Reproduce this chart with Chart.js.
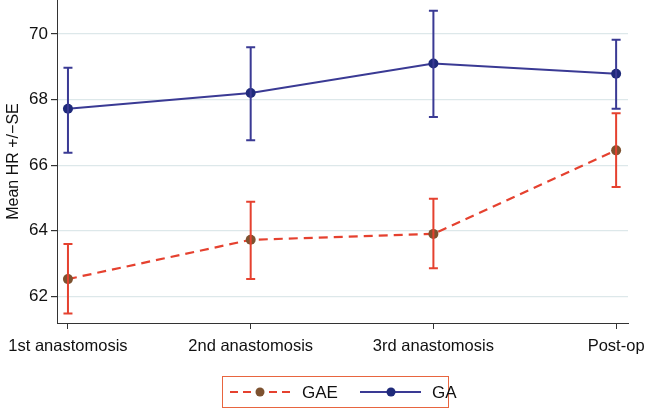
<!DOCTYPE html>
<html>
<head>
  <title>Mean HR</title>
  <script src="https://cdn.jsdelivr.net/npm/chart.js"></script>
  <style>
    body { margin: 0; background: #fff; }
    #wrap { width: 646px; height: 409px; position: relative; }
  </style>
</head>
<body>
  <div id="wrap"><canvas id="chart"></canvas></div>
  <script>
    const categories = ['1st anastomosis', '2nd anastomosis', '3rd anastomosis', 'Post-op'];
    const seriesNames = ['GAE', 'GA'];
    const gaeMean = [62.52, 63.72, 63.90, 66.45];
    const gaeLow = [61.47, 62.52, 62.85, 65.33];
    const gaeHigh = [63.59, 64.88, 64.97, 67.58];
    const gaMean = [67.72, 68.20, 69.10, 68.79];
    const gaLow = [66.38, 66.76, 67.47, 67.72];
    const gaHigh = [68.97, 69.60, 70.71, 69.83];
    const yTicks = [62, 64, 66, 68, 70];

    const RED = '#e5412f';
    const BLUE = '#3a3a94';
    const FONT = 'Liberation Sans, Arial, sans-serif';

    const errorBars = {
      id: 'errorBars',
      afterDatasetsDraw(chart) {
        const ctx = chart.ctx;
        const x = chart.scales.x, y = chart.scales.y;
        const sets = [
          { low: gaeLow, high: gaeHigh, color: RED },
          { low: gaLow, high: gaHigh, color: BLUE }
        ];
        ctx.save();
        sets.forEach(s => {
          ctx.strokeStyle = s.color;
          ctx.lineWidth = 2;
          s.low.forEach((lo, i) => {
            const px = x.getPixelForValue(i);
            const p1 = y.getPixelForValue(lo);
            const p2 = y.getPixelForValue(s.high[i]);
            ctx.beginPath();
            ctx.moveTo(px, p1); ctx.lineTo(px, p2);
            ctx.moveTo(px - 4.5, p1); ctx.lineTo(px + 4.5, p1);
            ctx.moveTo(px - 4.5, p2); ctx.lineTo(px + 4.5, p2);
            ctx.stroke();
          });
        });
        ctx.restore();
      },
      afterDraw(chart) {
        // boxed legend under the axis
        const ctx = chart.ctx;
        ctx.save();
        ctx.strokeStyle = '#e8653f';
        ctx.lineWidth = 1;
        ctx.strokeRect(222.5, 376.5, 226, 31);
        const cy = 392;
        // GAE
        ctx.strokeStyle = RED;
        ctx.lineWidth = 2;
        ctx.setLineDash([8, 5]);
        ctx.beginPath(); ctx.moveTo(230, cy); ctx.lineTo(291, cy); ctx.stroke();
        ctx.setLineDash([]);
        ctx.fillStyle = '#7d5230';
        ctx.beginPath(); ctx.arc(260, cy, 4.5, 0, Math.PI * 2); ctx.fill();
        // GA
        ctx.strokeStyle = BLUE;
        ctx.beginPath(); ctx.moveTo(360, cy); ctx.lineTo(421, cy); ctx.stroke();
        ctx.fillStyle = '#1f2a7a';
        ctx.beginPath(); ctx.arc(391, cy, 4.5, 0, Math.PI * 2); ctx.fill();
        ctx.fillStyle = '#111';
        ctx.font = '17px ' + FONT;
        ctx.textBaseline = 'middle';
        ctx.fillText(seriesNames[0], 302, cy + 1);
        ctx.fillText(seriesNames[1], 432, cy + 1);
        ctx.restore();
      }
    };

    new Chart(document.getElementById('chart'), {
      type: 'line',
      data: {
        datasets: [
          {
            label: seriesNames[0],
            data: gaeMean.map((v, i) => ({ x: i, y: v })),
            borderColor: RED,
            borderWidth: 2.2,
            borderDash: [9, 6],
            pointRadius: 5,
            pointBackgroundColor: '#7d5230',
            pointBorderWidth: 0,
            tension: 0
          },
          {
            label: seriesNames[1],
            data: gaMean.map((v, i) => ({ x: i, y: v })),
            borderColor: BLUE,
            borderWidth: 2,
            pointRadius: 5,
            pointBackgroundColor: '#1f2a7a',
            pointBorderWidth: 0,
            tension: 0
          }
        ]
      },
      options: {
        responsive: true,
        maintainAspectRatio: false,
        animation: false,
        layout: { autoPadding: false, padding: { top: 0, right: 18, left: 0, bottom: 0 } },
        plugins: { legend: { display: false }, tooltip: { enabled: false } },
        scales: {
          x: {
            type: 'linear',
            min: -0.06,
            max: 3.065,
            afterBuildTicks: s => { s.ticks = categories.map((c, i) => ({ value: i })); },
            afterFit: s => { s.height = 86; s.paddingLeft = 0; s.paddingRight = 0; },
            ticks: {
              callback: v => categories[v],
              color: '#111',
              font: { family: FONT, size: 16.5 },
              padding: 8,
              maxRotation: 0,
              autoSkip: false
            },
            grid: { drawOnChartArea: false, drawTicks: true, tickLength: 6, tickColor: '#333' },
            border: { color: '#333', width: 1 }
          },
          y: {
            min: 61.18,
            max: 71.04,
            afterBuildTicks: s => { s.ticks = yTicks.map(v => ({ value: v })); },
            afterFit: s => { s.width = 57; s.paddingTop = 0; s.paddingBottom = 0; },
            ticks: {
              color: '#111',
              font: { family: FONT, size: 17 },
              padding: 3
            },
            title: {
              display: true,
              text: 'Mean HR +/\u2212SE',
              color: '#111',
              font: { family: FONT, size: 16 },
              padding: { top: 4, bottom: 0 }
            },
            grid: { color: '#dde8ea', lineWidth: 1.2, tickLength: 6, tickColor: '#333' },
            border: { color: '#333', width: 1 }
          }
        }
      },
      plugins: [errorBars]
    });
  </script>
</body>
</html>
